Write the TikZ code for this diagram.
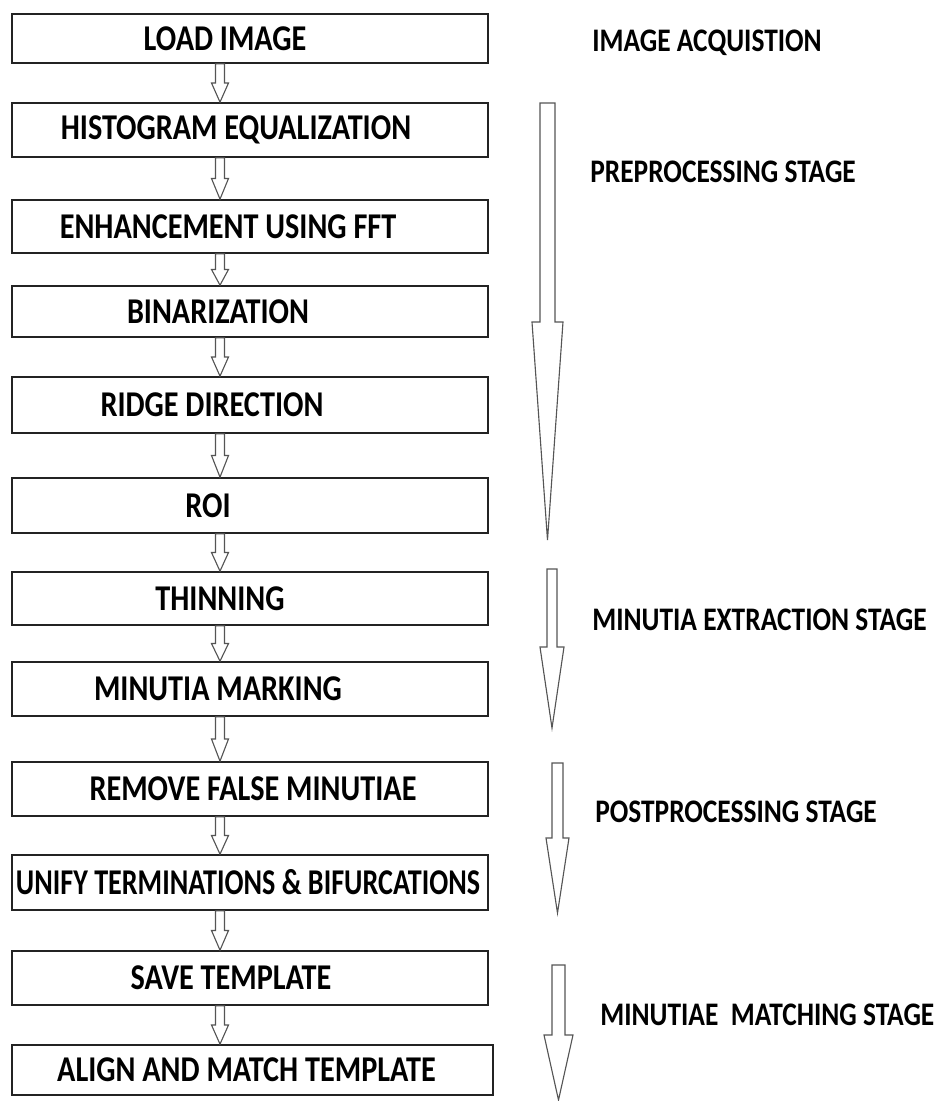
\documentclass[tikz,border=0pt]{standalone}
\usepackage{fontspec}
\setmainfont{Carlito}
\usepackage{graphicx}
\usetikzlibrary{calc}
\definecolor{boxLine}{RGB}{35,35,35}
\definecolor{arrowLine}{RGB}{85,85,85}
\newcommand{\tallText}[1]{\scalebox{1}[1.2]{#1}}

\begin{document}
\begin{tikzpicture}[x=0.025cm, y=-0.025cm,
    stepbox/.style={draw=boxLine, line width=1.2pt, fill=white, minimum width=11.9cm, inner sep=0pt},
    steptext/.style={inner sep=0pt, font=\bfseries\fontsize{21.5}{24}\selectfont},
    stagelabel/.style={anchor=west, inner sep=0pt, font=\bfseries\fontsize{19.5}{22}\selectfont},
    hollow/.style={draw=arrowLine, line width=0.8pt, fill=white, line join=miter}]

    \useasboundingbox (0,0) rectangle (944,1101);
    \coordinate (axis) at (220,0);

    % Steps of the flow
    \node[stepbox, minimum height=1.225cm, label={[steptext, xshift=-0.625cm]center:\tallText{LOAD IMAGE}}] (load) at (250,38.5) {};
    \node[stepbox, minimum height=1.35cm, label={[steptext, xshift=-0.35cm]center:\tallText{HISTOGRAM EQUALIZATION}}] (hist) at (250,130) {};
    \node[stepbox, minimum height=1.325cm, label={[steptext, xshift=-0.55cm]center:\tallText{ENHANCEMENT USING FFT}}] (enh) at (250,226.5) {};
    \node[stepbox, minimum height=1.275cm, label={[steptext, xshift=-0.8cm]center:\tallText{BINARIZATION}}] (bin) at (250,311.5) {};
    \node[stepbox, minimum height=1.4cm, label={[steptext, xshift=-0.95cm]center:\tallText{RIDGE DIRECTION}}] (ridge) at (250,405) {};
    \node[stepbox, minimum height=1.375cm, label={[steptext, xshift=-1.05cm]center:\tallText{ROI}}] (roi) at (250,505.5) {};
    \node[stepbox, minimum height=1.325cm, label={[steptext, xshift=-0.75cm]center:\tallText{THINNING}}] (thin) at (250,598.5) {};
    \node[stepbox, minimum height=1.35cm, label={[steptext, xshift=-0.8cm]center:\tallText{MINUTIA MARKING}}] (mark) at (250,689) {};
    \node[stepbox, minimum height=1.35cm, label={[steptext, xshift=0.075cm]center:\tallText{REMOVE FALSE MINUTIAE}}] (remove) at (250,789) {};
    \node[stepbox, minimum height=1.375cm, label={[steptext, xshift=-0.05cm]center:\scalebox{0.93}[1.2]{UNIFY TERMINATIONS \& BIFURCATIONS}}] (unify) at (250,882.5) {};
    \node[stepbox, minimum height=1.35cm, label={[steptext, xshift=-0.475cm]center:\tallText{SAVE TEMPLATE}}] (save) at (250,978) {};
    \node[stepbox, minimum height=1.25cm, minimum width=12.025cm, label={[steptext, xshift=-0.15cm]center:\tallText{ALIGN AND MATCH TEMPLATE}}] (align) at (252.5,1070) {};

    % Small hollow arrows between steps
    \foreach \a/\b in {load/hist, hist/enh, enh/bin, bin/ridge, ridge/roi, roi/thin, thin/mark, mark/remove, remove/unify, unify/save, save/align}{
        \path (\a.south -| axis) coordinate (s) (\b.north -| axis) coordinate (t) ($(s)!0.5!(t)$) coordinate (m);
        \draw[hollow] ($(s)+(-4.5,0)$) -- ($(m)+(-4.5,0)$) -- ($(m)+(-8.5,0)$) -- (t) -- ($(m)+(8.5,0)$) -- ($(m)+(4.5,0)$) -- ($(s)+(4.5,0)$) -- cycle;
    }

    % Big stage arrows
    \foreach \cx/\top/\head/\tip/\sw/\hw in {547.5/103/322/540/7.5/15.5, 552/569/647/728/5/12, 557.5/763/838/913/5.5/11.5, 558.5/965/1035/1100/6.5/14.5}{
        \draw[hollow] (\cx-\sw,\top) -- (\cx-\sw,\head) -- (\cx-\hw,\head) -- (\cx,\tip) -- (\cx+\hw,\head) -- (\cx+\sw,\head) -- (\cx+\sw,\top) -- cycle;
    }

    % Stage labels
    \node[stagelabel] (acq) at (592,43) {\tallText{IMAGE ACQUISTION}};
    \node[stagelabel] (pre) at (590,172) {\tallText{PREPROCESSING STAGE}};
    \node[stagelabel] (ext) at (592,620) {\tallText{MINUTIA EXTRACTION STAGE}};
    \node[stagelabel] (post) at (595,812) {\tallText{POSTPROCESSING STAGE}};
    \node[stagelabel] (match) at (600,1015) {\tallText{MINUTIAE~~MATCHING STAGE}};
\end{tikzpicture}
\end{document}
